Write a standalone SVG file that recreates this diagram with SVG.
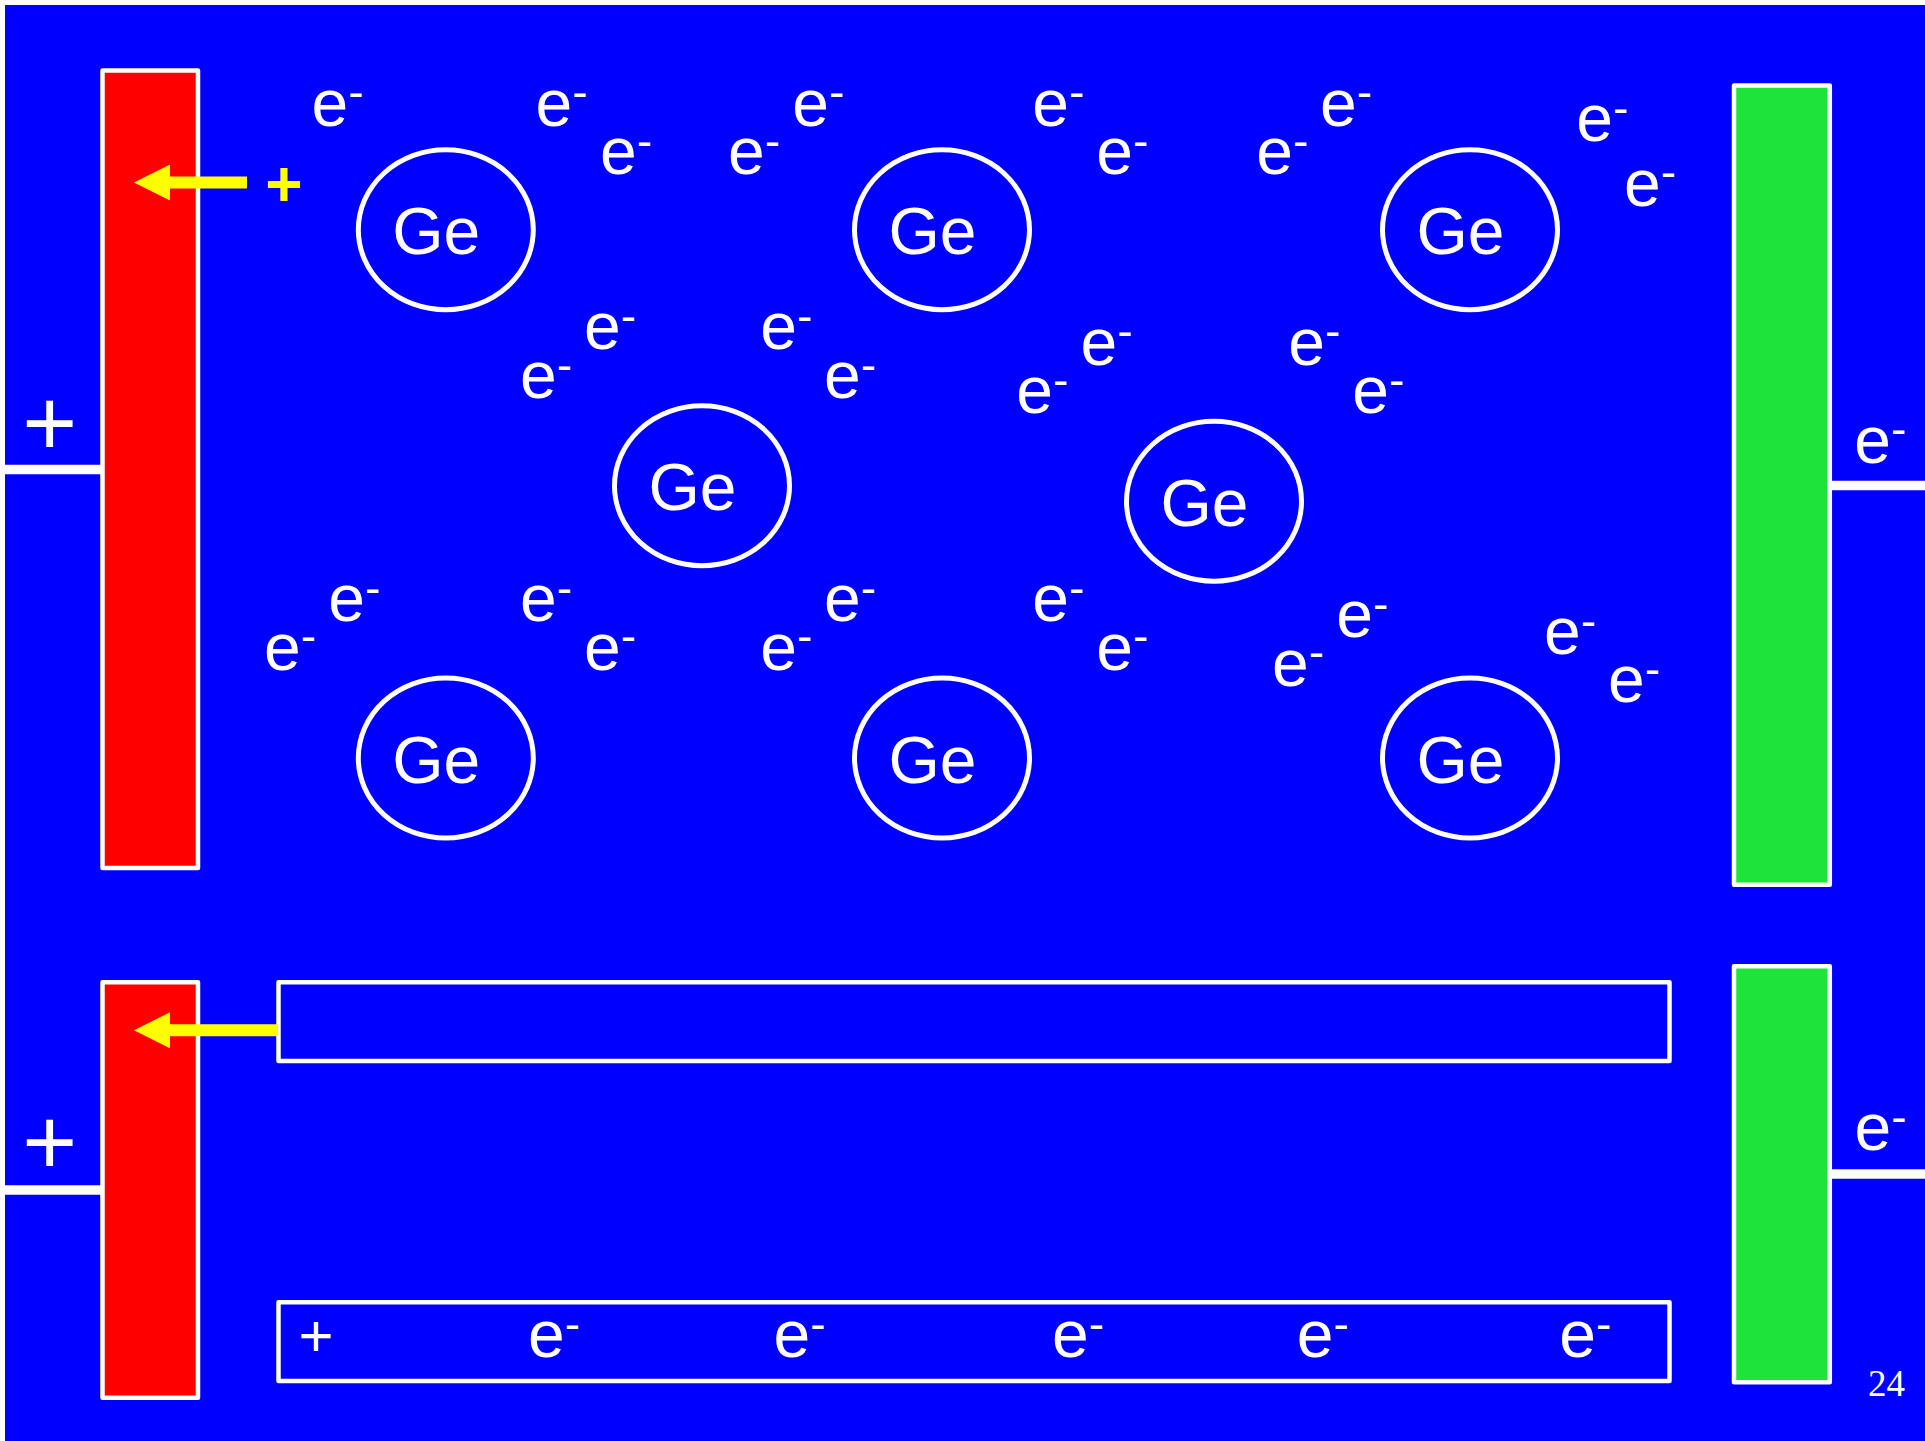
<svg xmlns="http://www.w3.org/2000/svg" width="1925" height="1441" viewBox="0 0 1925 1441">
<defs>
<style>
.bar{stroke:#fff;stroke-width:4.5;stroke-linejoin:round}
.red{fill:#ff0000}
.green{fill:#1ee33b}
.box{fill:none;stroke:#fff;stroke-width:4.5;stroke-linejoin:round}
.atom{fill:none;stroke:#fff;stroke-width:5}
.wire{stroke:#fff;stroke-width:9.5}
.t{font-family:"Liberation Sans",Arial,sans-serif;fill:#fff}
.ge{font-size:66px;text-anchor:middle}
.el{font-size:66px}
.sup{font-size:46px}
.plus{text-anchor:middle}
.arrow{stroke:#ffff00;stroke-width:12;fill:none}
</style>
<marker id="yh" markerUnits="userSpaceOnUse" markerWidth="36" markerHeight="36" viewBox="0 0 36 36" refX="0" refY="18" orient="auto">
<path d="M0,0 L36,18 L0,36 Z" fill="#ffff00"/>
</marker>
</defs>
<rect x="0" y="0" width="1925" height="1441" fill="#fff"/>
<rect x="5" y="5" width="1920" height="1436" fill="#0000ff"/>

<g id="battery-left-top">
<line class="wire" x1="5" y1="469.5" x2="102" y2="469.5"/>
<rect class="bar red" x="102.5" y="70.5" width="95.5" height="797.6"/>
<text class="t plus" x="49.7" y="454.7" font-size="94">+</text>
</g>
<g id="battery-left-bottom">
<line class="wire" x1="5" y1="1190" x2="102" y2="1190"/>
<rect class="bar red" x="102.5" y="982.2" width="95.5" height="415.6"/>
<text class="t plus" x="49.7" y="1174.3" font-size="94">+</text>
</g>
<g id="battery-right-top">
<line class="wire" x1="1832" y1="485.5" x2="1925" y2="485.5"/>
<rect class="bar green" x="1734" y="85.5" width="95.8" height="799.3"/>
<text class="t el" x="1854.3" y="462.5">e<tspan class="sup" dy="-17.5">-</tspan></text>
</g>
<g id="battery-right-bottom">
<line class="wire" x1="1832" y1="1174" x2="1925" y2="1174"/>
<rect class="bar green" x="1734" y="966.2" width="95.8" height="416"/>
<text class="t el" x="1854.5" y="1150">e<tspan class="sup" dy="-17.5">-</tspan></text>
</g>

<g id="hole-plus">
<text class="plus" x="284" y="205.7" font-size="64" font-weight="bold" font-family="Liberation Sans, Arial, sans-serif" fill="#ffff00">+</text>
</g>

<g id="ge-1"><ellipse class="atom" cx="445.8" cy="229.8" rx="87.5" ry="80"/><text class="t ge" x="436.3" y="254.3">Ge</text></g>
<g id="ge-2"><ellipse class="atom" cx="942" cy="229.8" rx="87.5" ry="80"/><text class="t ge" x="932.5" y="254.3">Ge</text></g>
<g id="ge-3"><ellipse class="atom" cx="1470" cy="229.8" rx="87.5" ry="80"/><text class="t ge" x="1460.5" y="254.3">Ge</text></g>
<g id="ge-4"><ellipse class="atom" cx="702" cy="485.8" rx="87.5" ry="80"/><text class="t ge" x="692.5" y="510.3">Ge</text></g>
<g id="ge-5"><ellipse class="atom" cx="1214" cy="501.3" rx="87.5" ry="80"/><text class="t ge" x="1204.5" y="525.8">Ge</text></g>
<g id="ge-6"><ellipse class="atom" cx="445.8" cy="758" rx="87.5" ry="80"/><text class="t ge" x="436.3" y="782.5">Ge</text></g>
<g id="ge-7"><ellipse class="atom" cx="942" cy="758" rx="87.5" ry="80"/><text class="t ge" x="932.5" y="782.5">Ge</text></g>
<g id="ge-8"><ellipse class="atom" cx="1470" cy="758" rx="87.5" ry="80"/><text class="t ge" x="1460.5" y="782.5">Ge</text></g>

<g id="electrons">
<text class="t el" x="311.6" y="125.7">e<tspan class="sup" dy="-17.5">-</tspan></text>
<text class="t el" x="535.6" y="125.7">e<tspan class="sup" dy="-17.5">-</tspan></text>
<text class="t el" x="600" y="174">e<tspan class="sup" dy="-17.5">-</tspan></text>
<text class="t el" x="728" y="174">e<tspan class="sup" dy="-17.5">-</tspan></text>
<text class="t el" x="792.3" y="125.7">e<tspan class="sup" dy="-17.5">-</tspan></text>
<text class="t el" x="1032.3" y="125.7">e<tspan class="sup" dy="-17.5">-</tspan></text>
<text class="t el" x="1096.3" y="174">e<tspan class="sup" dy="-17.5">-</tspan></text>
<text class="t el" x="1256.3" y="174">e<tspan class="sup" dy="-17.5">-</tspan></text>
<text class="t el" x="1320" y="125.7">e<tspan class="sup" dy="-17.5">-</tspan></text>
<text class="t el" x="1576.3" y="141.3">e<tspan class="sup" dy="-17.5">-</tspan></text>
<text class="t el" x="1624" y="205.7">e<tspan class="sup" dy="-17.5">-</tspan></text>
<text class="t el" x="584" y="349">e<tspan class="sup" dy="-17.5">-</tspan></text>
<text class="t el" x="520" y="398">e<tspan class="sup" dy="-17.5">-</tspan></text>
<text class="t el" x="760.3" y="349">e<tspan class="sup" dy="-17.5">-</tspan></text>
<text class="t el" x="824" y="398">e<tspan class="sup" dy="-17.5">-</tspan></text>
<text class="t el" x="1080.6" y="364.7">e<tspan class="sup" dy="-17.5">-</tspan></text>
<text class="t el" x="1016.3" y="413">e<tspan class="sup" dy="-17.5">-</tspan></text>
<text class="t el" x="1288.3" y="364.7">e<tspan class="sup" dy="-17.5">-</tspan></text>
<text class="t el" x="1352.3" y="413">e<tspan class="sup" dy="-17.5">-</tspan></text>
<text class="t el" x="328.3" y="621.3">e<tspan class="sup" dy="-17.5">-</tspan></text>
<text class="t el" x="264" y="669.7">e<tspan class="sup" dy="-17.5">-</tspan></text>
<text class="t el" x="520" y="621.3">e<tspan class="sup" dy="-17.5">-</tspan></text>
<text class="t el" x="584" y="669.7">e<tspan class="sup" dy="-17.5">-</tspan></text>
<text class="t el" x="824" y="621.3">e<tspan class="sup" dy="-17.5">-</tspan></text>
<text class="t el" x="760.3" y="669.7">e<tspan class="sup" dy="-17.5">-</tspan></text>
<text class="t el" x="1032.3" y="621.3">e<tspan class="sup" dy="-17.5">-</tspan></text>
<text class="t el" x="1096.3" y="669.7">e<tspan class="sup" dy="-17.5">-</tspan></text>
<text class="t el" x="1336.3" y="637.3">e<tspan class="sup" dy="-17.5">-</tspan></text>
<text class="t el" x="1272" y="685.7">e<tspan class="sup" dy="-17.5">-</tspan></text>
<text class="t el" x="1544" y="654">e<tspan class="sup" dy="-17.5">-</tspan></text>
<text class="t el" x="1608" y="702.3">e<tspan class="sup" dy="-17.5">-</tspan></text>
</g>

<g id="band-top">
<rect class="box" x="278.5" y="982.3" width="1391" height="78.8"/>
</g>
<g id="band-bottom">
<rect class="box" x="278.5" y="1302.3" width="1391" height="78.8"/>
<text class="t plus" x="316" y="1356" font-size="60">+</text>
<text class="t el" x="528" y="1357.3">e<tspan class="sup" dy="-17.5">-</tspan></text>
<text class="t el" x="773.6" y="1357.3">e<tspan class="sup" dy="-17.5">-</tspan></text>
<text class="t el" x="1052" y="1357.3">e<tspan class="sup" dy="-17.5">-</tspan></text>
<text class="t el" x="1296.8" y="1357.3">e<tspan class="sup" dy="-17.5">-</tspan></text>
<text class="t el" x="1559.3" y="1357.3">e<tspan class="sup" dy="-17.5">-</tspan></text>
</g>

<g id="connectors">
<line class="arrow" x1="247" y1="182.5" x2="170" y2="182.5" marker-end="url(#yh)"/>
<line class="arrow" x1="278" y1="1030.3" x2="170" y2="1030.3" marker-end="url(#yh)"/>
</g>

<text x="1868" y="1395.5" font-family="Liberation Serif, Times New Roman, serif" font-size="37" fill="#fff">24</text>
</svg>
